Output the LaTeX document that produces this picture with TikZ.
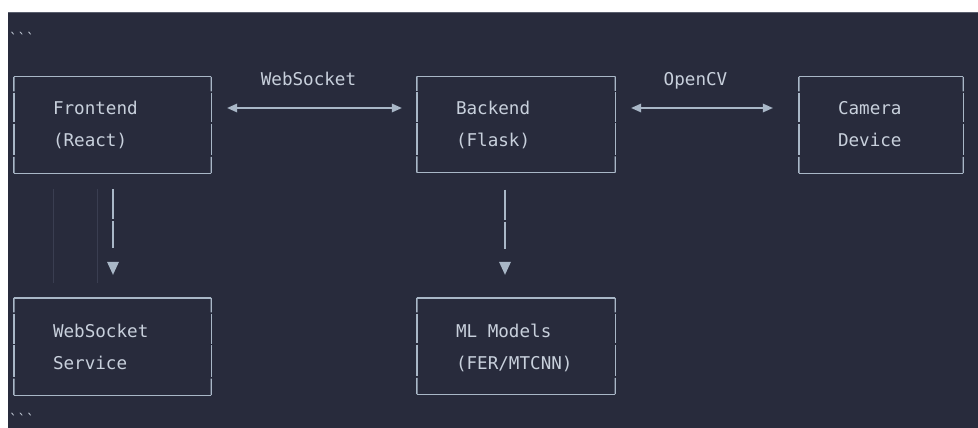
\documentclass[tikz,border=0pt]{standalone}
\usepackage{fontspec}
\newfontfamily\mono{DejaVu Sans Mono}
\usetikzlibrary{calc}
\definecolor{bg}{HTML}{282B3C}
\definecolor{txt}{HTML}{C8D0DC}
\definecolor{edgec}{HTML}{A9B7C7}
\definecolor{guide}{HTML}{3A3E51}
\definecolor{rim}{HTML}{5A5F6E}
\tikzset{
  boxn/.style={rectangle, draw=none, inner sep=0pt, minimum height=96pt},
  edge/.style={draw=edgec, line width=1.4pt},
  lbl/.style={text=txt, inner sep=0pt, anchor=base west, align=left,
              font=\mono\fontsize{17.6}{32}\selectfont},
  conn/.style={draw=edgec, line width=1.5pt},
  tip/.style={fill=edgec, draw=none},
  fence/.style={text=txt, inner sep=0pt, anchor=north west,
              font=\mono\fontsize{14}{16}\selectfont},
}
\begin{document}
\begin{tikzpicture}[x=1pt,y=-1pt]
\useasboundingbox (0,0) rectangle (978,428);
\fill[white] (0,0) rectangle (978,428);
\fill[bg] (8,12) rectangle (978,428);
\draw[rim, line width=1pt] (8,12.5) -- (978,12.5);

% boxes
\node[boxn, minimum width=197pt] (fe)  at (112.5,125) {};
\node[boxn, minimum width=198pt] (be)  at (516,124.5) {};
\node[boxn, minimum width=164pt] (cam) at (881,125) {};
\node[boxn, minimum width=197pt, minimum height=97pt] (ws) at (112.5,346.5) {};
\node[boxn, minimum width=198pt] (ml)  at (516,346) {};

\foreach \n in {fe,be,cam,ws,ml}{
  \draw[edge] (\n.north west) -- (\n.north east);
  \draw[edge] (\n.south west) -- (\n.south east);
  \foreach \a/\b in {0/0.15, 0.165/0.472, 0.487/0.815, 0.83/1}{
    \draw[edge] ($(\n.north west)!\a!(\n.south west)$) -- ($(\n.north west)!\b!(\n.south west)$);
    \draw[edge] ($(\n.north east)!\a!(\n.south east)$) -- ($(\n.north east)!\b!(\n.south east)$);
  }
}

% box texts (anchor = baseline of the last line)
\node[lbl] (fet)  at ([shift={(39,70)}]fe.north west)  {Frontend\\(React)};
\node[lbl] (bet)  at ([shift={(39,70)}]be.north west)  {Backend\\(Flask)};
\node[lbl] (camt) at ([shift={(39,70)}]cam.north west) {Camera\\Device};
\node[lbl] (wst)  at ([shift={(39,72)}]ws.north west)  {WebSocket\\Service};
\node[lbl] (mlt)  at ([shift={(39,72)}]ml.north west)  {ML Models\\(FER/MTCNN)};

% horizontal arrows
\coordinate (a1s) at ([shift={(16,-17)}]fe.east);
\coordinate (a1e) at ([shift={(-15,-16.5)}]be.west);
\draw[conn] ($(a1s)+(8,0)$) -- ($(a1e)+(-8,0)$);
\fill[tip] (a1s) -- ++(10,-4.5) -- ++(0,9) -- cycle;
\fill[tip] (a1e) -- ++(-10,-4.5) -- ++(0,9) -- cycle;
\node[lbl, anchor=base] (wsl) at (308.5,85) {WebSocket};

\coordinate (a2s) at ([shift={(16,-16.5)}]be.east);
\coordinate (a2e) at ([shift={(-26,-17)}]cam.west);
\draw[conn] ($(a2s)+(8,0)$) -- ($(a2e)+(-8,0)$);
\fill[tip] (a2s) -- ++(10,-4.5) -- ++(0,9) -- cycle;
\fill[tip] (a2e) -- ++(-10,-4.5) -- ++(0,9) -- cycle;
\node[lbl, anchor=base] (cvl) at (695.5,85) {OpenCV};

% vertical arrows
\coordinate (d1s) at ([shift={(0.5,16)}]fe.south);
\coordinate (d1t) at ([shift={(0.5,-23)}]ws.north);
\draw[conn] (d1s) -- ++(0,30);
\draw[conn] ($(d1s)+(0,32)$) -- ++(0,27);
\fill[tip] (d1t) -- ++(-6,-13) -- ++(12,0) -- cycle;

\coordinate (d2s) at ([shift={(-11,17)}]be.south);
\coordinate (d2t) at ([shift={(-11,-23)}]ml.north);
\draw[conn] (d2s) -- ++(0,30);
\draw[conn] ($(d2s)+(0,32)$) -- ++(0,27);
\fill[tip] (d2t) -- ++(-6,-13) -- ++(12,0) -- cycle;

% faint indent guides
\draw[guide, line width=1pt] (53,189) -- (53,283);
\draw[guide, line width=1pt] (97,189) -- (97,283);

% code fences
\node[fence] (f1) at (9,32) {\symbol{96}\symbol{96}\symbol{96}};
\node[fence] (f2) at (9,413) {\symbol{96}\symbol{96}\symbol{96}};
\end{tikzpicture}
\end{document}
